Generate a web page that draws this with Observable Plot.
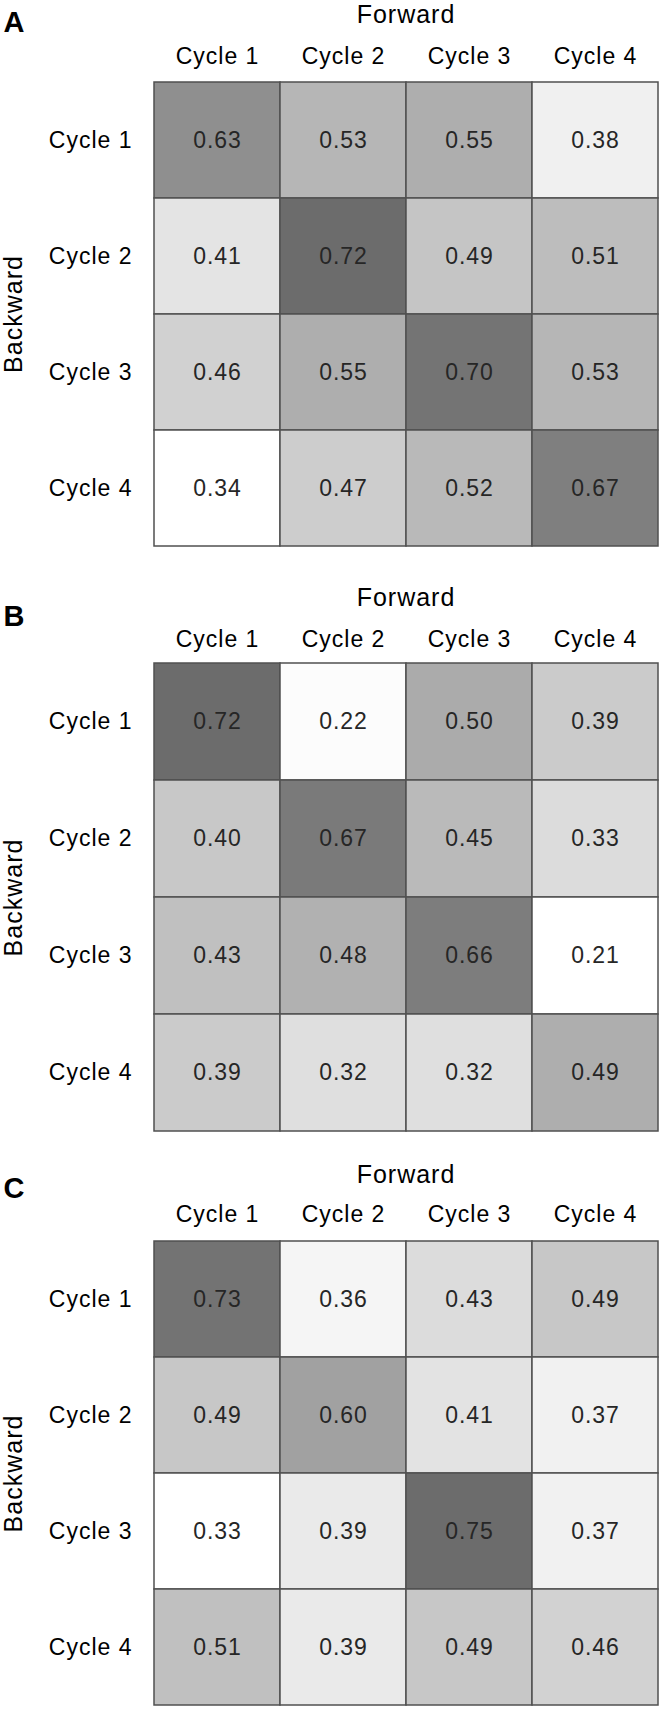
<!DOCTYPE html>
<html><head><meta charset="utf-8">
<script src="https://cdn.jsdelivr.net/npm/d3@7"></script>
<script src="https://cdn.jsdelivr.net/npm/@observablehq/plot@0.6"></script>
<style>
body{margin:0;background:#fff;}
#chart svg{display:block;}
</style></head><body><div id="chart"></div>
<script>
const cycles = ["Cycle 1", "Cycle 2", "Cycle 3", "Cycle 4"];
const panelLabels = ["A", "B", "C"];
const xTitle = "Forward";
const yTitle = "Backward";
// rows = Backward cycle, columns = Forward cycle
const panelA = [
  [0.63, 0.53, 0.55, 0.38],
  [0.41, 0.72, 0.49, 0.51],
  [0.46, 0.55, 0.70, 0.53],
  [0.34, 0.47, 0.52, 0.67]
];
const panelB = [
  [0.72, 0.22, 0.50, 0.39],
  [0.40, 0.67, 0.45, 0.33],
  [0.43, 0.48, 0.66, 0.21],
  [0.39, 0.32, 0.32, 0.49]
];
const panelC = [
  [0.73, 0.36, 0.43, 0.49],
  [0.49, 0.60, 0.41, 0.37],
  [0.33, 0.39, 0.75, 0.37],
  [0.51, 0.39, 0.49, 0.46]
];

const layout = [
  {height: 583, marginTop: 80, marginBottom: 36, letterDy: -58, tickPad: 17},
  {height: 577, marginTop: 80, marginBottom: 29, letterDy: -47, tickPad: 17},
  {height: 550, marginTop: 80, marginBottom: 4, letterDy: -52, tickPad: 19}
];

const font = "'Liberation Sans', Arial, Helvetica, sans-serif";
const chart = document.getElementById("chart");

[panelA, panelB, panelC].forEach((matrix, i) => {
  const data = [];
  matrix.forEach((row, r) => row.forEach((v, c) => data.push({bwd: cycles[r], fwd: cycles[c], value: v})));
  const vals = data.map(d => d.value);
  const L = layout[i];
  const svg = Plot.plot({
    width: 661,
    height: L.height,
    marginTop: L.marginTop,
    marginBottom: L.marginBottom,
    marginLeft: 153,
    marginRight: 3,
    style: {fontFamily: font, fontSize: "23px", color: "#000", background: "#fff", letterSpacing: "1px"},
    x: {domain: cycles, padding: 0, axis: null},
    y: {domain: cycles, padding: 0, axis: null},
    color: {type: "linear", domain: [d3.min(vals), d3.max(vals)], range: ["#ffffff", "#6c6c6c"]},
    marks: [
      Plot.cell(data, {x: "fwd", y: "bwd", fill: "value", stroke: "#505050", strokeWidth: 1.5, inset: 0}),
      Plot.text(data, {x: "fwd", y: "bwd", text: d => d.value.toFixed(2), fill: "#262626", fontSize: 23}),
      Plot.axisX({anchor: "top", tickSize: 0, tickPadding: L.tickPad, label: null, fontSize: 23}),
      Plot.axisY({anchor: "left", tickSize: 0, tickPadding: 21, label: null, fontSize: 23}),
      Plot.text([xTitle], {frameAnchor: "top", dy: -66, lineAnchor: "middle", text: d => d, fontSize: 25, fill: "#000"}),
      Plot.text([yTitle], {frameAnchor: "left", dx: -140, rotate: -90, textAnchor: "middle", lineAnchor: "middle", text: d => d, fontSize: 25, fill: "#000"}),
      Plot.text([panelLabels[i]], {frameAnchor: "top-left", dx: -139, dy: L.letterDy, text: d => d, textAnchor: "middle", lineAnchor: "middle", fontWeight: "bold", fontSize: 29, fill: "#000"})
    ]
  });
  chart.appendChild(svg);
});
</script>
</body></html>
